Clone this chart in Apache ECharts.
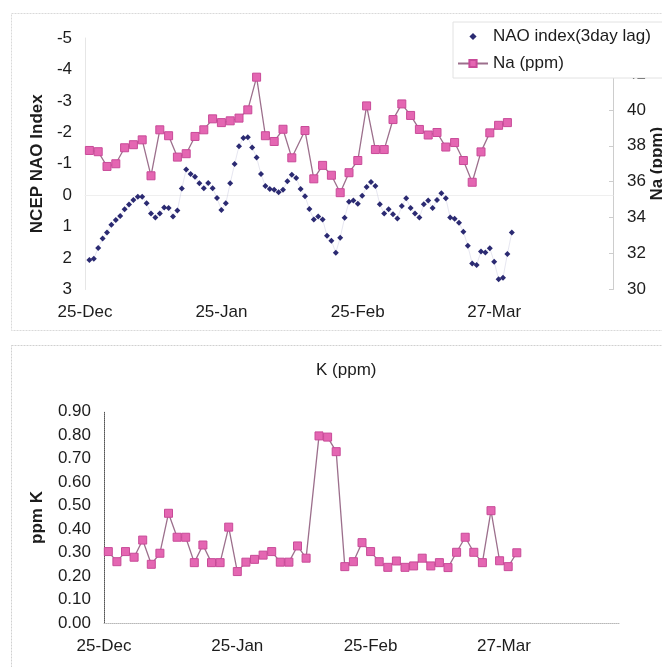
<!DOCTYPE html>
<html>
<head>
<meta charset="utf-8">
<script src="https://cdn.jsdelivr.net/npm/echarts@6/dist/echarts.min.js"></script>
<style>
  html, body { margin: 0; padding: 0; background: #ffffff; }
  #chart { width: 662px; height: 667px; }
</style>
</head>
<body>
<div id="chart"></div>
<script>
// Day offsets are counted from 25-Dec; axis ticks every 31 days.
const tickLabels = ['25-Dec', '25-Jan', '25-Feb', '27-Mar'];
const tickStep = 31;

// Daily NCEP NAO index (3-day lag), days 1..97
const naoFirstDay = 1;
const naoValues = [
  2.06, 2.02, 1.68, 1.38, 1.19, 0.94, 0.79, 0.66, 0.45, 0.30,
  0.15, 0.05, 0.05, 0.26, 0.58, 0.71, 0.58, 0.39, 0.41, 0.68,
  0.49, -0.21, -0.82, -0.67, -0.59, -0.38, -0.22, -0.39, -0.22, 0.09,
  0.47, 0.26, -0.38, -0.99, -1.56, -1.82, -1.84, -1.52, -1.20, -0.67,
  -0.29, -0.20, -0.17, -0.09, -0.17, -0.44, -0.65, -0.55, -0.20, 0.03,
  0.44, 0.77, 0.68, 0.77, 1.29, 1.45, 1.83, 1.35, 0.72, 0.21,
  0.17, 0.27, 0.02, -0.26, -0.42, -0.29, 0.29, 0.58, 0.45, 0.61,
  0.74, 0.34, 0.10, 0.41, 0.58, 0.71, 0.29, 0.17, 0.41, 0.15,
  -0.06, 0.10, 0.71, 0.75, 0.88, 1.16, 1.61, 2.17, 2.22, 1.79,
  1.82, 1.69, 2.12, 2.67, 2.63, 1.87, 1.19
];

// Sampling days for the snow chemistry series
const sampleDays = [
  1, 3, 5, 7, 9, 11, 13, 15, 17, 19, 21, 23,
  25, 27, 29, 31, 33, 35, 37, 39, 41, 43, 45, 47,
  50, 52, 54, 56, 58, 60, 62, 64, 66, 68, 70, 72,
  74, 76, 78, 80, 82, 84, 86, 88, 90, 92, 94, 96
];

// Na (ppm)
const naValues = [
  37.74, 37.67, 36.85, 37.00, 37.89, 38.06, 38.33, 36.33, 38.89, 38.56,
  37.37, 37.56, 38.52, 38.89, 39.50, 39.29, 39.39, 39.54, 40.00, 41.82,
  38.56, 38.24, 38.92, 37.33, 38.85, 36.16, 36.91, 36.36, 35.39, 36.50,
  37.18, 40.22, 37.79, 37.79, 39.46, 40.33, 39.69, 38.91, 38.60, 38.74,
  37.93, 38.18, 37.18, 35.97, 37.66, 38.72, 39.14, 39.29
];

// K (ppm)
const kValues = [
  0.305, 0.262, 0.305, 0.281, 0.354, 0.251, 0.298, 0.468, 0.366, 0.366,
  0.258, 0.333, 0.258, 0.258, 0.409, 0.220, 0.260, 0.272, 0.290, 0.305,
  0.260, 0.260, 0.329, 0.277, 0.797, 0.792, 0.730, 0.241, 0.262, 0.343,
  0.305, 0.262, 0.238, 0.265, 0.238, 0.244, 0.277, 0.244, 0.258, 0.237,
  0.302, 0.366, 0.302, 0.258, 0.479, 0.266, 0.241, 0.300
];

const FONT = "'Liberation Sans', Arial, sans-serif";
const TXT = '#1c1c1c';

const naoData = naoValues.map((v, i) => [naoFirstDay + i, v]);
const naData = sampleDays.map((d, i) => [d, naValues[i]]);
const kData = sampleDays.map((d, i) => [d, kValues[i]]);

function dayLabel(v) {
  const i = v / tickStep;
  return Number.isInteger(i) && tickLabels[i] ? tickLabels[i] : '';
}

const xCommon = {
  type: 'value', min: 0, max: 120, interval: tickStep,
  splitLine: { show: false },
  axisTick: { show: false },
  axisLabel: { formatter: dayLabel, fontFamily: FONT, fontSize: 17, color: TXT }
};

const chart = echarts.init(document.getElementById('chart'), null, { renderer: 'canvas' });

chart.setOption({
  animation: false,
  backgroundColor: '#ffffff',
  graphic: [
    { type: 'rect', shape: { x: 11.5, y: 13.5, width: 700, height: 317 },
      style: { fill: null, stroke: '#d9d9d9', lineWidth: 1, lineDash: [2, 1] }, z: -1 },
    { type: 'rect', shape: { x: 11.5, y: 345.5, width: 700, height: 400 },
      style: { fill: null, stroke: '#d0d0d0', lineWidth: 1, lineDash: [2, 1] }, z: -1 }
  ],
  title: {
    text: 'K (ppm)', left: 311, top: 357,
    textStyle: { fontFamily: FONT, fontSize: 17, fontWeight: 'normal', color: TXT }
  },
  legend: {
    orient: 'vertical', left: 453, top: 22,
    padding: [6, 24, 6, 4], itemGap: 10,
    itemWidth: 30, itemHeight: 9,
    backgroundColor: '#ffffff', borderColor: '#e2e2e2', borderWidth: 1,
    textStyle: { fontFamily: FONT, fontSize: 17, color: TXT },
    data: [
      { name: 'NAO index(3day lag)', lineStyle: { opacity: 0 } },
      { name: 'Na (ppm)' }
    ]
  },
  grid: [
    { left: 85, right: 49, top: 38, bottom: 377.5, outerBoundsMode: 'none', containLabel: false },
    { left: 104, right: 42, top: 411.7, bottom: 43.7, outerBoundsMode: 'none', containLabel: false }
  ],
  xAxis: [
    Object.assign({}, xCommon, {
      gridIndex: 0,
      axisLine: { show: true, lineStyle: { color: '#efefef' } },
      axisLabel: Object.assign({}, xCommon.axisLabel, { margin: 14 })
    }),
    Object.assign({}, xCommon, {
      gridIndex: 1,
      axisLine: { show: true, lineStyle: { color: '#b8b8b8', type: 'dotted' } },
      axisLabel: Object.assign({}, xCommon.axisLabel, { margin: 15 })
    })
  ],
  yAxis: [
    {
      type: 'value', gridIndex: 0, inverse: true, min: -5, max: 3, interval: 1,
      name: 'NCEP NAO Index', nameLocation: 'middle', nameGap: 39,
      nameMoveOverlap: false,
      nameTextStyle: { fontFamily: FONT, fontSize: 17, fontWeight: 'bold', color: TXT },
      axisLine: { show: true, lineStyle: { color: '#e6e6e6' } },
      axisTick: { show: false },
      splitLine: { show: false },
      axisLabel: { fontFamily: FONT, fontSize: 17, color: TXT, margin: 13 }
    },
    {
      type: 'value', gridIndex: 0, position: 'right', min: 30, max: 44, interval: 2,
      name: 'Na (ppm)', nameLocation: 'middle', nameGap: 36,
      nameMoveOverlap: false,
      nameTextStyle: { fontFamily: FONT, fontSize: 17, fontWeight: 'bold', color: TXT },
      axisLine: { show: true, lineStyle: { color: '#cdcdcd' } },
      axisTick: { show: true, inside: true, length: 4, lineStyle: { color: '#cdcdcd' } },
      splitLine: { show: false },
      axisLabel: { fontFamily: FONT, fontSize: 17, color: TXT, margin: 14 }
    },
    {
      type: 'value', gridIndex: 1, min: 0, max: 0.9, interval: 0.1,
      name: 'ppm K', nameLocation: 'middle', nameGap: 58,
      nameMoveOverlap: false,
      nameTextStyle: { fontFamily: FONT, fontSize: 17, fontWeight: 'bold', color: TXT },
      axisLine: { show: true, lineStyle: { color: '#555555', type: 'dotted' } },
      axisTick: { show: false },
      splitLine: { show: false },
      axisLabel: { fontFamily: FONT, fontSize: 17, color: TXT, margin: 13,
                   formatter: v => v.toFixed(2) }
    }
  ],
  series: [
    {
      name: 'NAO index(3day lag)', type: 'line', xAxisIndex: 0, yAxisIndex: 0,
      data: naoData,
      symbol: 'diamond', symbolSize: 6,
      itemStyle: { color: '#2b2a72' },
      lineStyle: { color: 'rgba(205,205,225,0.5)', width: 1 },
      z: 3
    },
    {
      name: 'Na (ppm)', type: 'line', xAxisIndex: 0, yAxisIndex: 1,
      data: naData,
      symbol: 'rect', symbolSize: 8,
      itemStyle: { color: '#e466b2', borderColor: '#c84a98', borderWidth: 1 },
      lineStyle: { color: '#9c6f8c', width: 1.3 },
      z: 2
    },
    {
      name: 'K (ppm)', type: 'line', xAxisIndex: 1, yAxisIndex: 2,
      data: kData,
      symbol: 'rect', symbolSize: 8,
      itemStyle: { color: '#e466b2', borderColor: '#c84a98', borderWidth: 1 },
      lineStyle: { color: '#9c6f8c', width: 1.3 }
    }
  ]
});
</script>
</body>
</html>
